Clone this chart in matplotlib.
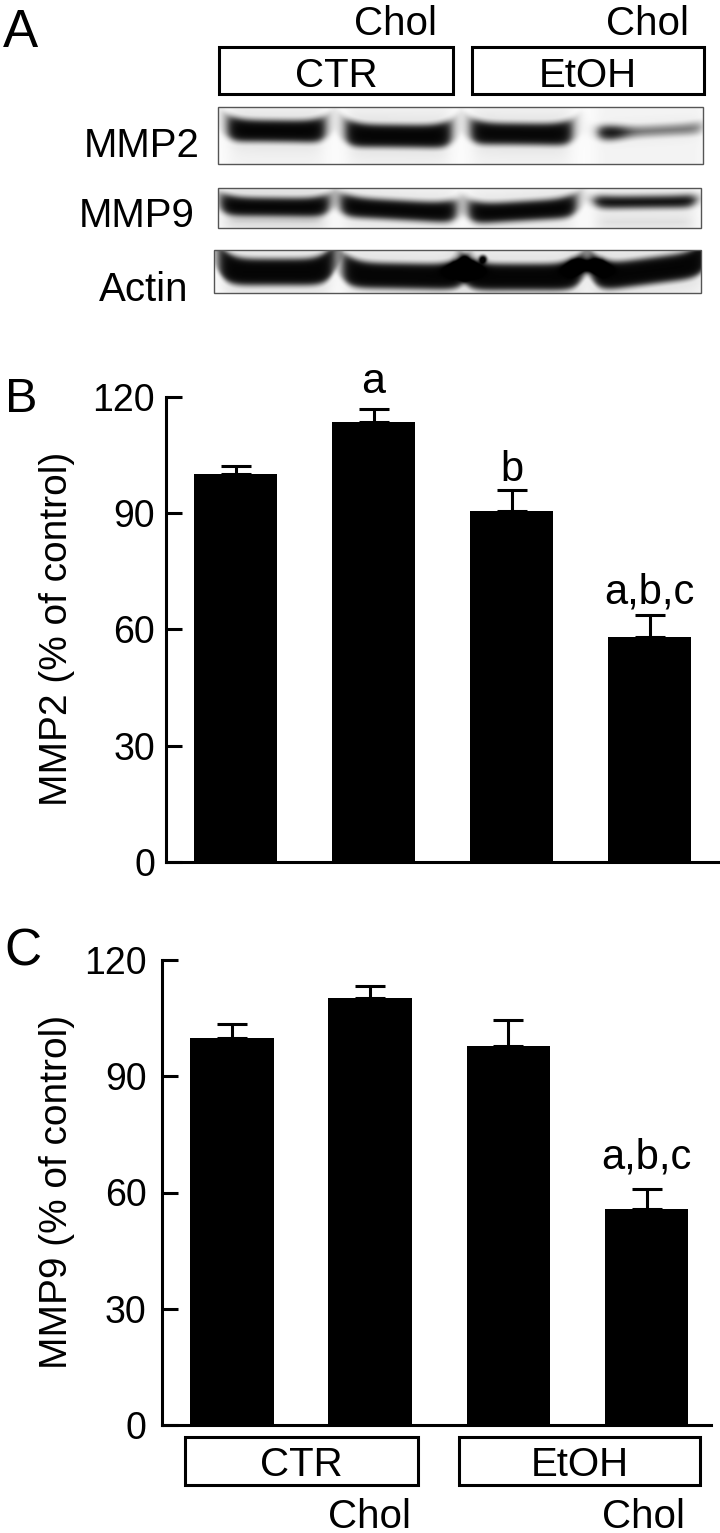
import numpy as np
import matplotlib
matplotlib.use("Agg")
import matplotlib.pyplot as plt
from matplotlib.patches import Rectangle

plt.rcParams['font.family'] = ['Liberation Sans', 'DejaVu Sans']

# ---------------- data ----------------
groups = ['CTR', 'CTR+Chol', 'EtOH', 'EtOH+Chol']
mmp2_mean = [100.0, 113.6, 90.5, 58.1]
mmp2_sem = [2.2, 3.3, 5.5, 5.5]
mmp2_letters = ['', 'a', 'b', 'a,b,c']
mmp9_mean = [100.0, 110.3, 97.8, 55.7]
mmp9_sem = [3.6, 3.1, 6.8, 5.2]
mmp9_letters = ['', '', '', 'a,b,c']
yticks = [0, 30, 60, 90, 120]
treatment_labels = ['CTR', 'EtOH']
chol_label = 'Chol'
blot_names = ['MMP2', 'MMP9', 'Actin']
# relative band intensities per lane (CTR, CTR+Chol, EtOH, EtOH+Chol)
blot_mmp2 = [1.0, 1.0, 0.95, 0.22]
blot_mmp9 = [1.0, 1.0, 1.0, 0.85]
blot_actin = [1.0, 1.0, 1.0, 1.0]

W, H = 720, 1533
fig = plt.figure(figsize=(W / 100, H / 100), dpi=100)

# overlay axes in pixel coordinates for panel A and decorations
ov = fig.add_axes([0, 0, 1, 1], zorder=0)
ov.set_xlim(0, W)
ov.set_ylim(H, 0)
ov.axis('off')

def sig(z):
    return 1.0 / (1.0 + np.exp(-z))

def render_blot(box, bands, intensities, extras=None):
    x0, x1, y0, y1 = box
    ss = 2
    xs = np.arange(x0, x1, 1.0 / ss) + 0.25
    ys = np.arange(y0, y1, 1.0 / ss) + 0.25
    X, Y = np.meshgrid(xs, ys)
    dark = np.zeros_like(X)
    haze = np.zeros_like(X)
    for b, inten in zip(bands, intensities):
        bx0, bx1, yc, th, tilt, curl, lfac = b
        xm = 0.5 * (bx0 + bx1)
        hw = 0.5 * (bx1 - bx0)
        u = (X - xm) / hw
        ycx = yc + tilt * u - curl * np.clip(np.abs(u), 0, 1.3) ** 6
        hx = sig((X - bx0) / 3.5) * sig((bx1 - X) / 3.5)
        thx = th * (1 + 0.25 * np.clip(np.abs(u), 0, 1.2) ** 4)
        v = sig((thx / 2 - np.abs(Y - ycx)) / 2.2)
        left_boost = 1 + lfac * np.exp(-((X - bx0 - 10) / 16) ** 2)
        dark += 1 - np.exp(-3.5 * inten * left_boost * hx * v)
        haze += 0.10 * hx * np.exp(-((Y - ycx) / (th * 1.2)) ** 2) * min(1, inten + 0.3)
        haze += 0.035 * sig((bx1 + 4 - X) / 4) * sig((X - bx0 + 4) / 4)
    if extras:
        for (ex, ey, er) in extras:
            dark += sig((er - np.hypot(X - ex, Y - ey)) / 1.0)
    img = np.clip(np.maximum(dark, haze) + 0.012, 0, 1)
    ov.imshow(img, cmap='gray_r', vmin=0, vmax=1, extent=(x0, x1, y1, y0),
              origin='upper', interpolation='bilinear', aspect='auto', zorder=1)
    ov.add_patch(Rectangle((x0, y0), x1 - x0, y1 - y0, fill=False,
                           ec='#555555', lw=1.0, zorder=2))

# band geometry: x0, x1, yc, thickness, tilt, end curl, left boost
mmp2_bands = [(232, 321, 131, 15, 0.5, 2.5, 0.0),
              (350, 447, 136, 16, 0.5, 3.0, 0.0),
              (475, 568, 134, 15, 0.5, 2.5, 0.0),
              (600, 700, 131, 8, -2.5, 1.0, 2.2)]
mmp9_bands = [(225, 325, 207, 12, 0.5, 3.0, 0.0),
              (345, 452, 210, 13, 3.0, 2.5, 0.0),
              (473, 572, 211, 13, -3.0, 3.0, 0.0),
              (598, 692, 202, 6, -0.5, 1.0, 0.0),
              (228, 322, 222, 4, 0.0, 0.0, 0.0),
              (600, 690, 222, 4, 0.0, 0.0, 0.0)]
actin_bands = [(223, 330, 272, 20, 0.0, 9.0, 0.0),
               (347, 462, 276, 19, 1.0, 6.0, 0.0),
               (466, 578, 277, 20, 0.0, 7.0, 0.0),
               (596, 703, 271, 20, -7.0, 8.0, 0.0),
               (574, 600, 266, 7, 0.0, 0.0, 0.0),
               (455, 472, 268, 6, 0.0, 0.0, 0.0)]

render_blot((218, 703, 107, 164), mmp2_bands, blot_mmp2)
render_blot((218, 701, 188, 228), mmp9_bands, blot_mmp9 + [0.05, 0.05])
render_blot((214, 701, 250, 293), actin_bands, blot_actin + [0.8, 0.7],
            extras=[(483, 259, 3.5)])

# blot labels
lab_fs = 29
ov.text(200, 157, blot_names[0], fontsize=lab_fs, ha='right', va='baseline')
ov.text(195, 227, blot_names[1], fontsize=lab_fs, ha='right', va='baseline')
ov.text(188, 301, blot_names[2], fontsize=lab_fs, ha='right', va='baseline')

# top group boxes
box_lw = 2.2
grp_fs = 29
for (bx0, bx1), lab in zip([(219, 453), (472, 704)], treatment_labels):
    ov.add_patch(Rectangle((bx0, 47), bx1 - bx0, 47, fill=False, ec='black', lw=box_lw, zorder=3))
    ov.text(0.5 * (bx0 + bx1), 87, lab, fontsize=grp_fs, ha='center', va='baseline')
ov.text(395, 35, chol_label, fontsize=grp_fs, ha='center', va='baseline')
ov.text(648, 35, chol_label, fontsize=grp_fs, ha='center', va='baseline')

# panel letters
ov.text(3, 47, 'A', fontsize=38, ha='left', va='baseline')
ov.text(5, 412, 'B', fontsize=35, ha='left', va='baseline')
ov.text(4, 966, 'C', fontsize=37, ha='left', va='baseline')

# ---------------- bar panels ----------------
def bar_panel(rect, means, sems, letters, letter_offsets, letter_sizes, xlim, ylabel, lab_x, lab_y, pad):
    ax = fig.add_axes(rect, zorder=2)
    ax.patch.set_alpha(0)
    x = np.arange(len(means))
    ax.bar(x, means, width=0.605, color='black', edgecolor='black', linewidth=0)
    ax.errorbar(x, means, yerr=[np.zeros(len(sems)), sems], fmt='none', ecolor='black',
                elinewidth=2.2, capsize=10.5, capthick=2.2)
    for xi, m, s, lt, off, fs in zip(x, means, sems, letters, letter_offsets, letter_sizes):
        if lt:
            ax.annotate(lt, (xi, m + s), xytext=(0, off), textcoords='offset points',
                        ha='center', va='baseline', fontsize=fs, annotation_clip=False)
    ax.set_xlim(*xlim)
    ax.set_ylim(0, 120)
    ax.set_yticks(yticks)
    ax.set_xticks([])
    for sp in ['top', 'right']:
        ax.spines[sp].set_visible(False)
    for sp in ['left', 'bottom']:
        ax.spines[sp].set_linewidth(2.2)
    ax.tick_params(axis='y', direction='in', length=11.5, width=2.2, labelsize=27, pad=pad)
    ov.text(lab_x, lab_y, ylabel, fontsize=28, rotation=90, rotation_mode='anchor',
            ha='center', va='baseline')
    return ax

axB = bar_panel([166 / W, 1 - 862 / H, 554 / W, 465.3 / H], mmp2_mean, mmp2_sem, mmp2_letters,
                [0, 11.5, 6.5, 8.6], [30, 31, 30, 30], (-0.504, 3.51),
                'MMP2 (% of control)', 67, 629, 8)
axC = bar_panel([162 / W, 1 - 1425 / H, 549 / W, 465 / H], mmp9_mean, mmp9_sem, mmp9_letters,
                [0, 0, 0, 14.5], [30, 30, 30, 30], (-0.5065, 3.466),
                'MMP9 (% of control)', 67, 1192, 11)

# bottom group boxes for panel C
for (bx0, bx1), lab in zip([(185, 418), (459, 700)], treatment_labels):
    ov.add_patch(Rectangle((bx0, 1437), bx1 - bx0, 48, fill=False, ec='black', lw=box_lw, zorder=3))
    ov.text(0.5 * (bx0 + bx1), 1476, lab, fontsize=grp_fs, ha='center', va='baseline')
ov.text(370, 1528, chol_label, fontsize=grp_fs, ha='center', va='baseline')
ov.text(643, 1528, chol_label, fontsize=grp_fs, ha='center', va='baseline')

fig.savefig('out.png', dpi=100)
